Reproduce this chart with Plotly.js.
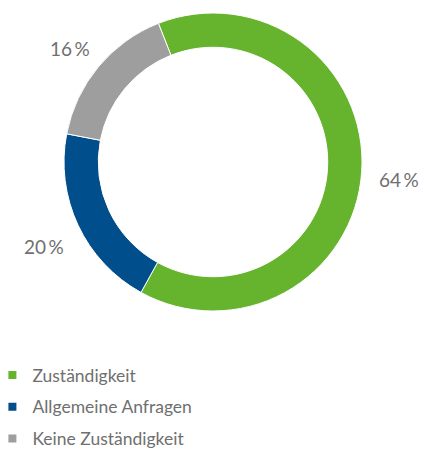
<!DOCTYPE html>
<html>
<head>
<meta charset="utf-8">
<script src="https://cdn.plot.ly/plotly-3.0.1.min.js"></script>
<style>html,body{margin:0;padding:0;background:#fff;}#chart{width:422px;height:450px;}</style>
</head>
<body>
<div id="chart"></div>
<script>
const labels = ["Zuständigkeit", "Allgemeine Anfragen", "Keine Zuständigkeit"];
const values = [64, 20, 16];
const colors = ["#66b32e", "#004e8b", "#9d9e9d"];
const percentText = values.map(v => v + "\u2009%");

const W = 422, H = 450;
const rotation = -21.5;
const domX = [64 / W, 362 / W];
const domY = [1 - 311 / H, 1 - 13 / H];

const pie = {
  type: "pie",
  labels: labels,
  values: values,
  textinfo: "none",
  hole: 0.77,
  sort: false,
  direction: "clockwise",
  rotation: rotation,
  showlegend: false,
  automargin: false,
  marker: {colors: colors, line: {color: "#ffffff", width: 1}},
  domain: {x: domX, y: domY},
  hoverinfo: "label+percent"
};

const legendTraces = labels.map((lab, i) => ({
  type: "scatter",
  mode: "markers",
  x: [null],
  y: [null],
  name: lab,
  legendgroup: "g" + i,
  marker: {symbol: "square", size: 8, color: colors[i]},
  showlegend: true,
  hoverinfo: "skip"
}));

// percentage labels placed outside each slice at its mid angle
const total = values.reduce((a, b) => a + b, 0);
const cxPx = (domX[0] + domX[1]) / 2 * W;
const cyPx = (1 - (domY[0] + domY[1]) / 2) * H;
const rPx = (domY[1] - domY[0]) * H / 2;
const labelR = rPx * 1.25;
let cum = 0;
const annotations = values.map((v, i) => {
  const ang = (rotation + (cum + v / 2) / total * 360) * Math.PI / 180;
  cum += v;
  const xp = cxPx + labelR * Math.sin(ang);
  const yp = cyPx - labelR * Math.cos(ang);
  return {
    xref: "paper", yref: "paper",
    x: xp / W, y: 1 - yp / H,
    xanchor: "center", yanchor: "middle",
    yshift: -5,
    text: percentText[i],
    showarrow: false,
    font: {family: "Lato, sans-serif", size: 19, color: "#6f6f6f"}
  };
});

const layout = {
  width: W,
  height: H,
  margin: {l: 0, r: 0, t: 0, b: 0, autoexpand: false},
  paper_bgcolor: "#ffffff",
  plot_bgcolor: "#ffffff",
  xaxis: {visible: false},
  yaxis: {visible: false},
  showlegend: true,
  annotations: annotations,
  legend: {
    x: -0.018, xanchor: "left",
    y: 1 - 357 / H, yanchor: "top",
    orientation: "v",
    traceorder: "grouped",
    tracegroupgap: 6,
    font: {family: "Lato, sans-serif", size: 17.5, color: "#6f6f6f"},
    itemwidth: 30
  }
};

Plotly.newPlot("chart", [pie].concat(legendTraces), layout, {displayModeBar: false, staticPlot: true});
</script>
</body>
</html>
